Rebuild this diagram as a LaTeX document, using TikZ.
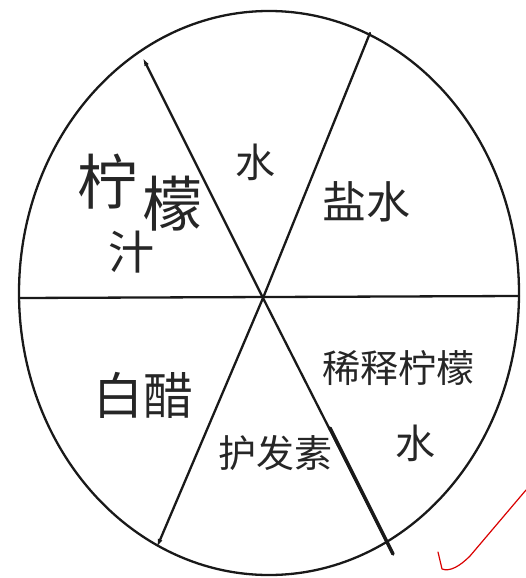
\documentclass[tikz,border=0pt]{standalone}
\usepackage{fontspec}
\usetikzlibrary{arrows.meta}
\newfontfamily\cjk{Noto Sans CJK SC}
\tikzset{
  pen/.style={line width=2.3pt, black!90, line cap=round},
  label/.style={font=\cjk, inner sep=0pt, text=black!85},
  tip/.style={-{Latex[length=8pt,width=5pt]}},
}
\begin{document}
\begin{tikzpicture}[x=1pt,y=-1pt]
\useasboundingbox (0,0) rectangle (526,578);
% outer circle (hand drawn, slightly oval)
\draw[pen] (269,293) ellipse [x radius=250, y radius=282];
% centre and spoke ends
\coordinate (c) at (263,298);
\coordinate (w) at (20,298);
\coordinate (e) at (519,296);
\coordinate (nw) at (143,58);
\coordinate (ne) at (370,33);
\coordinate (sw) at (157,547);
\coordinate (se) at (393,554);
\coordinate (sem) at (330,428);
\draw[pen] (w) -- (e);
\draw[pen, tip] (c) -- (nw);
\draw[pen] (c) -- (se);
\draw[line width=3.4pt, black!90, line cap=round] (sem) -- (se);
\draw[pen] (c) -- (ne);
\draw[pen, tip] (c) -- (sw);
% labels
\node[label, font=\cjk\fontsize{40}{42}\selectfont] (water) at (255,162) {水};
\node[label, font=\cjk\fontsize{44}{46}\selectfont] (salt) at (366,202) {盐水};
\node[label, font=\cjk\fontsize{60}{62}\selectfont] (lemon1) at (107,182) {柠};
\node[label, font=\cjk\fontsize{60}{62}\selectfont] (lemon2) at (172,204) {檬};
\node[label, font=\cjk\fontsize{46}{48}\selectfont] (lemon3) at (131,252) {汁};
\node[label, font=\cjk\fontsize{50}{52}\selectfont] (vinegar) at (143,395) {白醋};
\node[label, font=\cjk\fontsize{38}{40}\selectfont] (conditioner) at (275,453) {护发素};
\node[label, font=\cjk\fontsize{38}{40}\selectfont] (dilute1) at (398,368) {稀释柠檬};
\node[label, font=\cjk\fontsize{40}{42}\selectfont] (dilute2) at (415,443) {水};
% red check mark
\draw[red!85!black, line width=1.2pt, line cap=round, line join=round]
  (438,552) -- (442,569) .. controls (450,572) and (460,566) .. (470,556) -- (526,490);
\end{tikzpicture}
\end{document}
